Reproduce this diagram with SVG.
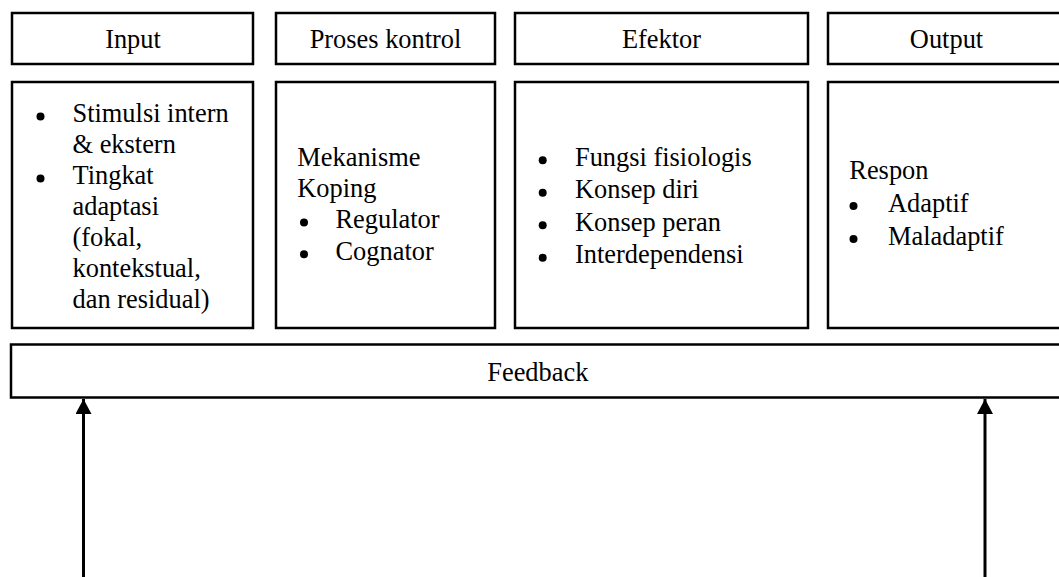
<svg xmlns="http://www.w3.org/2000/svg" width="1059" height="577" viewBox="0 0 1059 577">
<style>
.box{fill:#fff;stroke:#000;stroke-width:2.5}
.t{font-family:"Liberation Serif","Times New Roman",Times,serif;font-size:26.4px;fill:#000}
.c{text-anchor:middle}
.dot{fill:#000}
.conn{stroke:#000;stroke-width:3;fill:none}
</style>
<defs>
<marker id="ah" markerUnits="userSpaceOnUse" markerWidth="16" markerHeight="16" viewBox="0 0 16 16" refX="15" refY="8" orient="auto">
<path d="M0,0 L15,8 L0,16 Z" fill="#000"/>
</marker>
</defs>
<rect width="1059" height="577" fill="#fff"/>
<g id="input-header"><rect class="box" x="12" y="13" width="241" height="51"/><text class="t c" x="133" y="48">Input</text></g>
<g id="proses-header"><rect class="box" x="276" y="13" width="219" height="51"/><text class="t c" x="385.5" y="48">Proses kontrol</text></g>
<g id="efektor-header"><rect class="box" x="515" y="13" width="293" height="51"/><text class="t c" x="661.5" y="48">Efektor</text></g>
<g id="output-header"><rect class="box" x="828" y="13" width="237" height="51"/><text class="t c" x="946.5" y="48">Output</text></g>
<g id="input-body"><rect class="box" x="12" y="82" width="241" height="246"/>
<circle class="dot" cx="40.5" cy="116.5" r="4"/><text class="t" x="72.5" y="122.3">Stimulsi intern</text>
<text class="t" x="72.5" y="153.3">&amp; ekstern</text>
<circle class="dot" cx="40.5" cy="178.5" r="4"/><text class="t" x="72.5" y="184.3">Tingkat</text>
<text class="t" x="72.5" y="215.3">adaptasi</text>
<text class="t" x="72.5" y="246.3">(fokal,</text>
<text class="t" x="72.5" y="277.3">kontekstual,</text>
<text class="t" x="72.5" y="308.3">dan residual)</text>
</g>
<g id="proses-body"><rect class="box" x="276" y="82" width="219" height="246"/>
<text class="t" x="297.3" y="165.7">Mekanisme</text>
<text class="t" x="297.3" y="196.7">Koping</text>
<circle class="dot" cx="304" cy="222.6" r="4"/><text class="t" x="335.5" y="228.3">Regulator</text>
<circle class="dot" cx="304" cy="254.3" r="4"/><text class="t" x="335.5" y="260">Cognator</text>
</g>
<g id="efektor-body"><rect class="box" x="515" y="82" width="293" height="246"/>
<circle class="dot" cx="542.7" cy="160.2" r="4"/><text class="t" x="575" y="165.7">Fungsi fisiologis</text>
<circle class="dot" cx="542.7" cy="192.7" r="4"/><text class="t" x="575" y="198.2">Konsep diri</text>
<circle class="dot" cx="542.7" cy="225.2" r="4"/><text class="t" x="575" y="230.7">Konsep peran</text>
<circle class="dot" cx="542.7" cy="257.7" r="4"/><text class="t" x="575" y="263.2">Interdependensi</text>
</g>
<g id="output-body"><rect class="box" x="828" y="82" width="237" height="246"/>
<text class="t" x="849.3" y="178.5">Respon</text>
<circle class="dot" cx="853.5" cy="206" r="4"/><text class="t" x="888" y="211.5">Adaptif</text>
<circle class="dot" cx="853.5" cy="239" r="4"/><text class="t" x="888" y="244.5">Maladaptif</text>
</g>
<g id="feedback"><rect class="box" x="11" y="344.5" width="1054" height="53"/><text class="t c" x="537.8" y="380.7">Feedback</text></g>
<g id="connectors">
<line class="conn" x1="83.5" y1="577" x2="83.5" y2="399" marker-end="url(#ah)"/>
<line class="conn" x1="985" y1="577" x2="985" y2="399" marker-end="url(#ah)"/>
</g>
</svg>
